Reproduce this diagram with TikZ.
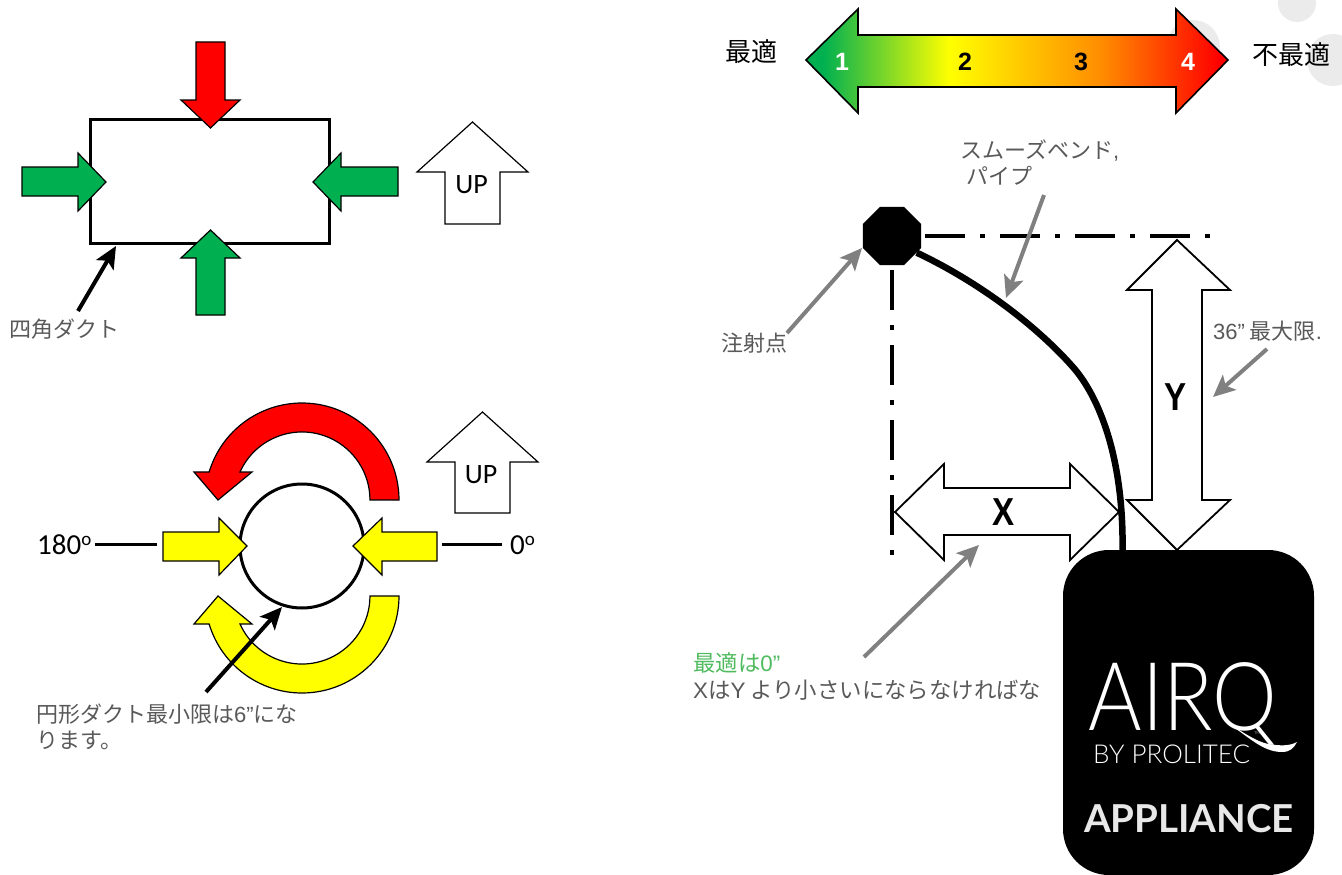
\documentclass[tikz,border=0pt]{standalone}
\usepackage{fontspec}
\usetikzlibrary{arrows.meta}
\usetikzlibrary{shapes.geometric}
\setmainfont{Carlito}
\newfontfamily\cjk{Noto Sans CJK JP}
\newfontfamily\arial{Liberation Sans}
\newfontfamily\logolight{Lato Light}
\newfontfamily\logobold{Lato Bold}
\definecolor{okgreen}{HTML}{00B050}
\definecolor{ductyellow}{HTML}{FFFF00}
\definecolor{ductred}{HTML}{FF0000}
\definecolor{midorange}{HTML}{FF8C00}
\definecolor{labelgray}{HTML}{595959}
\definecolor{leadergray}{HTML}{808080}
\definecolor{optgreen}{HTML}{4FBA5E}
\definecolor{blobgray}{HTML}{EBEBEB}
\definecolor{applwhite}{HTML}{E8E8E8}
\pgfdeclarehorizontalshading{ratingfill}{100bp}{color(0bp)=(okgreen); color(27bp)=(okgreen); color(42bp)=(ductyellow); color(60bp)=(midorange); color(74bp)=(ductred); color(100bp)=(ductred)}
\tikzset{
  block/.style={draw=black,line width=1.2pt,line join=miter},
  outline/.style={draw=black,line width=1.8pt,line join=miter},
  leader/.style={line width=4pt,draw=#1,-{Stealth[length=22pt,width=20pt,inset=5pt]}},
  note/.style={font=\cjk\fontsize{22}{26}\selectfont,text=labelgray,anchor=west,inner sep=0pt,align=left},
  upbox/.style={font=\fontsize{28}{30}\selectfont,inner sep=0pt},
  degree/.style={font=\fontsize{29}{32}\selectfont,inner sep=0pt},
  rating/.style={font=\arial\bfseries\fontsize{25}{30}\selectfont,inner sep=0pt},
  rankname/.style={font=\cjk\fontsize{26}{30}\selectfont,inner sep=0pt,anchor=west},
  bigletter/.style={font=\arial\bfseries\fontsize{39}{44}\selectfont,inner sep=0pt,xscale=0.85},
  centerline/.style={line width=4pt,dash pattern=on 40pt off 15pt on 5pt off 15pt},
}
\newcommand{\degmark}{\raisebox{9pt}{\fontsize{19}{19}\selectfont o}}

\begin{document}
\begin{tikzpicture}[x=1pt,y=1pt]
\useasboundingbox (0,0) rectangle (1342,-875);

% grey blobs behind the scale
\fill[blobgray] (1297,-3) circle (19pt);
\fill[blobgray] (1333,-60) circle (26pt);
\fill[blobgray] (1193,-47) circle (27pt);

% rectangular duct
\node[draw,line width=3pt,minimum width=239pt,minimum height=124pt,inner sep=0pt] (rect) at (209.5,-181) {};
% top red
\draw[block,fill=ductred] (196,-42) -- (225,-42) -- (225,-100) -- (240,-100) -- (210.5,-128) -- (181,-100) -- (196,-100) -- cycle;
% left green
\draw[block,fill=okgreen] (22,-167) -- (78,-167) -- (78,-153) -- (106,-182) -- (78,-211) -- (78,-196) -- (22,-196) -- cycle;
% right green
\draw[block,fill=okgreen] (398,-167) -- (341,-167) -- (341,-153) -- (313,-182) -- (341,-211) -- (341,-196) -- (398,-196) -- cycle;
% bottom green
\draw[block,fill=okgreen] (196,-315) -- (225,-315) -- (225,-258) -- (240,-258) -- (210.5,-230) -- (181,-258) -- (196,-258) -- cycle;
% UP
\draw[block,fill=white] (445,-224) -- (500,-224) -- (500,-172) -- (528,-172) -- (472.5,-122) -- (417,-172) -- (445,-172) -- cycle;
\node[upbox] (upA) at (471.5,-185) {UP};
% label to duct
\node[note] (rectnote) at (9,-329) {四角ダクト};
\coordinate (rectfrom) at (78,-311);
\coordinate (rectto) at (116,-246);
\draw[leader=black] (rectfrom) -- (rectto);

% round duct
\node[draw,circle,line width=3pt,minimum size=124pt,inner sep=0pt] (round) at (302,-546) {};
% red sweep
\draw[block,fill=ductred] (399,-500) arc[start angle=0,end angle=163.2,radius=97pt] -- (194,-472) -- (218,-500) -- (252,-472) -- (240,-472) arc[start angle=155.7,end angle=0,radius=68pt] -- cycle;
% yellow sweep
\draw[block,fill=ductyellow] (399,-596) arc[start angle=0,end angle=-163.2,radius=97pt] -- (194,-624) -- (218,-596) -- (252,-624) -- (240,-624) arc[start angle=-155.7,end angle=0,radius=68pt] -- cycle;
% left yellow
\draw[block,fill=ductyellow] (163,-532) -- (219,-532) -- (219,-518) -- (247,-546) -- (219,-575) -- (219,-561) -- (163,-561) -- cycle;
% right yellow
\draw[block,fill=ductyellow] (437,-532) -- (382,-532) -- (382,-518) -- (353,-546) -- (382,-575) -- (382,-561) -- (437,-561) -- cycle;
% UP
\draw[block,fill=white] (455,-513) -- (510,-513) -- (510,-462) -- (538,-462) -- (482.5,-412) -- (427,-462) -- (455,-462) -- cycle;
\node[upbox] (upB) at (481,-475) {UP};
% angles
\node[degree,anchor=west] (deg180) at (37,-545) {180\degmark};
\node[degree,anchor=west] (deg0) at (510,-545) {0\degmark};
\coordinate (leftstop) at (157,-544);
\coordinate (rightstop) at (442,-544);
\draw[line width=3pt] ([xshift=3pt]deg180.east |- leftstop) -- (leftstop);
\draw[line width=3pt] ([xshift=-8pt]deg0.west |- rightstop) -- (rightstop);
% label to round duct
\node[note] (roundnote) at (36,-727) {円形ダクト最小限は{\arial 6”}にな\\ります。};
\coordinate (roundfrom) at (206,-692);
\coordinate (roundto) at (282,-607);
\draw[leader=black] (roundfrom) -- (roundto);

% rating scale
\path[draw=black,line width=1.6pt,line join=miter,shading=ratingfill] (806,-60) -- (858,-9) -- (858,-35) -- (1176,-35) -- (1176,-9) -- (1228,-60) -- (1176,-113) -- (1176,-87) -- (858,-87) -- (858,-113) -- cycle;
\node[rating,text=white] (rateA) at (842,-62) {1};
\node[rating] (rateB) at (965,-62) {2};
\node[rating] (rateC) at (1081,-62) {3};
\node[rating,text=white] (rateD) at (1188,-62) {4};
\node[rankname] (best) at (725,-52) {最適};
\node[rankname] (worst) at (1252,-55) {不最適};

% X and Y
\draw[outline] (1177,-240) -- (1230,-290) -- (1202,-290) -- (1202,-500) -- (1230,-500) -- (1177,-550) -- (1127,-500) -- (1152,-500) -- (1152,-290) -- (1127,-290) -- cycle;
\node[bigletter] (dimY) at (1176,-397) {Y};
\draw[outline] (895,-512) -- (944,-464) -- (944,-488) -- (1070,-488) -- (1070,-464) -- (1119,-512) -- (1070,-560) -- (1070,-535) -- (944,-535) -- (944,-560) -- cycle;
\node[bigletter] (dimX) at (1004,-512) {X};

% appliance
\node[fill=black,rounded corners=46pt,minimum width=251pt,minimum height=325pt,inner sep=0pt] (appliance) at (1188.5,-712.5) {};
\node[font=\logolight\fontsize{95}{100}\selectfont,text=white,inner sep=0pt,xscale=0.86,anchor=base] (airq) at (1183,-730) {AIRQ};
\node[font=\logolight\fontsize{4}{5}\selectfont,text=white,inner sep=0pt] (tmark) at (1257,-733) {TM};
\fill[white] (1226,-722) .. controls (1248,-736) and (1262,-752) .. (1282,-752) .. controls (1290,-752) and (1294,-748) .. (1297,-742) .. controls (1290,-746) and (1280,-746) .. (1268,-744) .. controls (1255,-741) and (1243,-732) .. (1226,-722) -- cycle;
\node[font=\logolight\fontsize{26}{30}\selectfont,text=white,inner sep=0pt,anchor=west] (byline) at (1093,-754) {BY PROLITEC};
\node[font=\logobold\fontsize{38.5}{42}\selectfont,text=applwhite,inner sep=0pt] (appname) at (1189,-819) {APPLIANCE};

% injection point and pipe
\node[regular polygon,regular polygon sides=8,fill=black,minimum size=63pt,inner sep=0pt] (inject) at (892,-236) {};
\coordinate (bend) at (1072,-366);
\draw[line width=6.5pt] (inject.-34) .. controls (985,-285) and (1040,-330) .. (bend) .. controls (1100,-397) and (1124,-460) .. ([xshift=-66pt,yshift=-2pt]appliance.north);
% centre lines
\coordinate (hend) at (1213,-236);
\coordinate (vend) at (892,-557);
\draw[centerline] ([xshift=4pt]inject.east) -- (hend);
\draw[centerline] ([yshift=-5pt]inject.south) -- (vend);

% pipe label
\node[note] (pipenote) at (960,-163) {スムーズベンド{\arial ,}\\\hspace{6pt}パイプ};
\coordinate (pipefrom) at (1044,-195);
\coordinate (pipeto) at (1006,-298);
\draw[leader=leadergray] (pipefrom) -- (pipeto);
% injection label
\node[note] (injectnote) at (721,-343) {注射点};
\coordinate (injectfrom) at (787,-333);
\coordinate (injectto) at (862,-248);
\draw[leader=leadergray] (injectfrom) -- (injectto);
% max label
\node[note] (maxnote) at (1213,-331) {{\arial 36”} 最大限{\arial .}};
\coordinate (maxfrom) at (1267,-349);
\coordinate (maxto) at (1213,-397);
\draw[leader=leadergray] (maxfrom) -- (maxto);
% X label
\node[note,font=\cjk\fontsize{22.4}{27}\selectfont] (xnote) at (693,-676) {\textcolor{optgreen}{最適は{\arial 0”}}\\{\arial X}は{\arial Y} より小さいにならなければな};
\coordinate (xfrom) at (864,-657);
\coordinate (xto) at (979,-545);
\draw[leader=leadergray] (xfrom) -- (xto);
\end{tikzpicture}
\end{document}
